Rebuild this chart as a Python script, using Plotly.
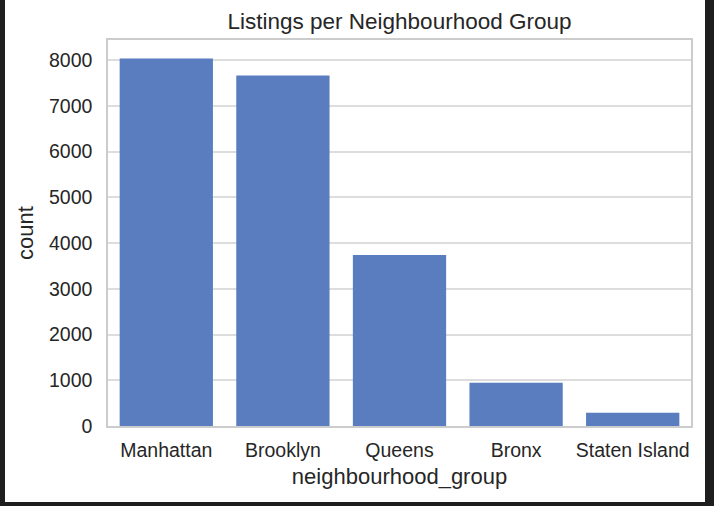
import plotly.graph_objects as go

categories = ["Manhattan", "Brooklyn", "Queens", "Bronx", "Staten Island"]
counts = [8038, 7665, 3740, 948, 292]
y_ticks = [0, 1000, 2000, 3000, 4000, 5000, 6000, 7000, 8000]

W, H = 714, 506
L, R, T, B = 108, 23, 40, 80

fig = go.Figure(go.Bar(
    x=categories, y=counts,
    marker=dict(color="#5a7dc0", line=dict(width=0)),
    width=0.8,
))

pw = W - L - R
ph = H - T - B
# paper coords of white area (x 5..705, y 0..502)
x0 = (5 - L) / pw
x1 = (705 - L) / pw
y0 = (H - 502 - B) / ph
y1 = (H - B) / ph

fig.update_layout(
    width=W, height=H,
    margin=dict(l=L, r=R, t=T, b=B, pad=0),
    paper_bgcolor="#1e1e1e",
    plot_bgcolor="white",
    font=dict(family="Liberation Sans, Arial, sans-serif", color="#262626", size=19),
    title=dict(text="Listings per Neighbourhood Group", x=0.5, xanchor="center",
               xref="paper", y=1 - 21 / H, yanchor="middle",
               font=dict(size=22.5, color="#262626")),
    shapes=[dict(type="rect", xref="paper", yref="paper", x0=x0, x1=x1, y0=y0, y1=y1,
                 fillcolor="white", line=dict(width=0), layer="below")],
    showlegend=False,
    bargap=0.2,
)
fig.update_xaxes(
    showgrid=False, showline=True, linecolor="#cccccc", linewidth=1.5, mirror=True,
    ticks="", tickfont=dict(size=19.5, color="#262626"), ticklabelstandoff=6,
    title=dict(text="neighbourhood_group", font=dict(size=22, color="#262626"), standoff=8),
    range=[-0.5, 4.5],
)
fig.update_yaxes(
    range=[0, 8440], tickvals=y_ticks, ticktext=[str(v) for v in y_ticks],
    showgrid=True, gridcolor="#dddddd", gridwidth=1.5,
    showline=True, linecolor="#cccccc", linewidth=1.5, mirror=True,
    ticks="", tickfont=dict(size=19.5, color="#262626"), ticklabelstandoff=10,
    zeroline=False,
    title=dict(text="count", font=dict(size=22, color="#262626"), standoff=9),
)

fig.write_html("out.html", config={"displayModeBar": False},
               post_script="document.body.style.margin='0';document.body.style.padding='0';")
